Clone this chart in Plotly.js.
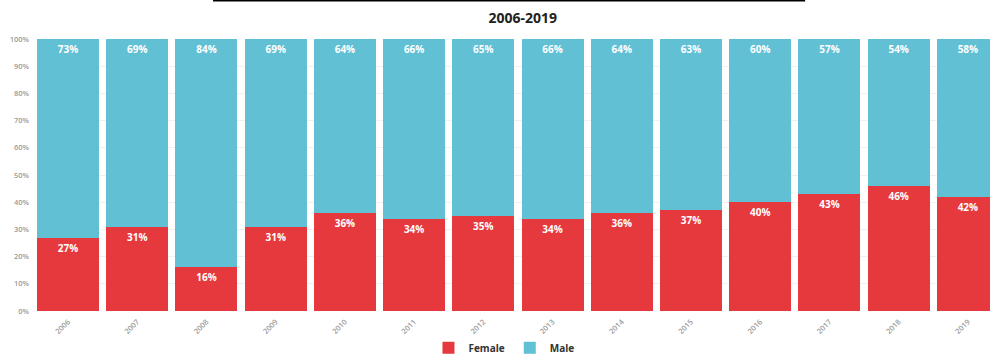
<!DOCTYPE html>
<html>
<head>
<meta charset="utf-8">
<script src="https://cdn.plot.ly/plotly-3.0.1.min.js"></script>
<style>
  html, body { margin: 0; padding: 0; background: #fff; }
  #chart { width: 990px; height: 354px; }
</style>
</head>
<body>
<div id="chart"></div>
<script>
// Share of female and male by year, in percent
const years = ['2006', '2007', '2008', '2009', '2010', '2011', '2012', '2013', '2014', '2015', '2016', '2017', '2018', '2019'];
const female = [27, 31, 16, 31, 36, 34, 35, 34, 36, 37, 40, 43, 46, 42];
const male = [73, 69, 84, 69, 64, 66, 65, 66, 64, 63, 60, 57, 54, 58];
const yTicks = [0, 10, 20, 30, 40, 50, 60, 70, 80, 90, 100];

const labelFont = { family: 'Open Sans, sans-serif', size: 10, color: '#ffffff', weight: 700 };
const tickFont = { family: 'Open Sans, sans-serif', size: 7.5, color: '#9a9a9a', weight: 600 };

const traces = [
  {
    type: 'bar', name: 'Female', x: years, y: female,
    marker: { color: '#e6393d' },
    text: female.map(v => v + '%'), textposition: 'inside', insidetextanchor: 'end',
    textfont: labelFont, hoverinfo: 'x+y'
  },
  {
    type: 'bar', name: 'Male', x: years, y: male,
    marker: { color: '#62c0d5' },
    text: male.map(v => v + '%'), textposition: 'inside', insidetextanchor: 'end',
    textfont: labelFont, hoverinfo: 'x+y'
  }
];

const layout = {
  width: 990, height: 354,
  margin: { l: 37, r: 0, t: 39, b: 43 },
  paper_bgcolor: '#ffffff', plot_bgcolor: '#ffffff',
  barmode: 'stack', bargap: 0.104,
  title: {
    text: '<b>2006-2019</b>',
    font: { family: 'Open Sans, sans-serif', size: 14, color: '#222222' },
    x: 0.528, xanchor: 'center', y: 0.95, yanchor: 'middle'
  },
  xaxis: {
    type: 'category', range: [-0.448, 13.32], automargin: false,
    tickangle: -45, tickfont: tickFont, ticklabelstandoff: 4,
    showgrid: false, zeroline: false, showline: false, ticks: '', fixedrange: true
  },
  yaxis: {
    range: [0, 100], tickvals: yTicks, ticktext: yTicks.map(v => v + '%'), automargin: false,
    tickfont: tickFont, ticklabelstandoff: 7,
    showgrid: true, gridcolor: '#f0f0f0', gridwidth: 1,
    zeroline: false, showline: false, ticks: '', fixedrange: true
  },
  showlegend: true,
  legend: {
    orientation: 'h', xref: 'paper', x: 0.49, xanchor: 'center',
    yref: 'container', y: 0.018, yanchor: 'middle', bgcolor: 'rgba(0,0,0,0)',
    font: { family: 'Open Sans, sans-serif', size: 10, color: '#333333', weight: 700 },
    traceorder: 'normal', itemwidth: 30
  },
  shapes: [
    { type: 'line', xref: 'paper', yref: 'paper', x0: 0.1847, x1: 0.806, y0: 1.141, y1: 1.141,
      line: { color: '#000000', width: 1.5 } }
  ]
};

Plotly.newPlot('chart', traces, layout, { displayModeBar: false, staticPlot: true });
</script>
</body>
</html>
